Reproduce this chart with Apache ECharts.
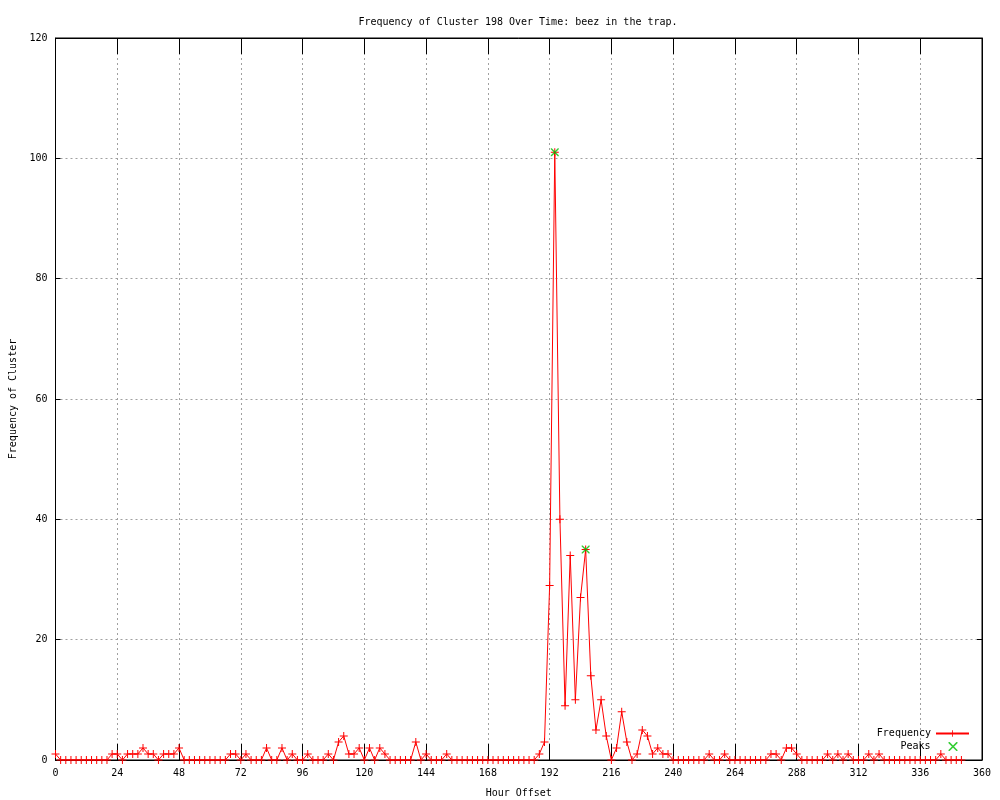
<!DOCTYPE html>
<html>
<head>
<meta charset="utf-8">
<script src="https://cdn.jsdelivr.net/npm/echarts@6/dist/echarts.min.js"></script>
<style>
html,body{margin:0;padding:0;background:#fff;}
#chart{width:1000px;height:800px;}
</style>
</head>
<body>
<div id="chart"></div>
<script>
// Hour offsets of the samples
var hours = [0,2,4,6,8,10,12,14,16,18,20,22,24,26,28,30,32,34,36,38,40,42,44,46,48,
50,52,54,56,58,60,62,64,66,68,70,72,74,76,78,80,82,84,86,88,90,92,94,96,98,
100,102,104,106,108,110,112,114,116,118,120,122,124,126,128,130,132,134,136,138,
140,142,144,146,148,150,152,154,156,158,160,162,164,166,168,170,172,174,176,178,
180,182,184,186,188,190,192,194,196,198,200,202,204,206,208,210,212,214,216,218,
220,222,224,226,228,230,232,234,236,238,240,242,244,246,248,250,252,254,256,258,
260,262,264,266,268,270,272,274,276,278,280,282,284,286,288,290,292,294,296,298,
300,302,304,306,308,310,312,314,316,318,320,322,324,326,328,330,332,334,336,338,
340,342,344,346,348,350,352];
// Frequency of cluster at each hour offset
var frequency = [1,0,0,0,0,0,0,0,0,0,0,
1,1,0,1,1,1,2,1,1,0,1,1,1,2,
0,0,0,0,0,0,0,0,0,
1,1,0,1,0,0,0,2,0,0,2,0,1,0,0,1,0,0,0,1,0,3,4,1,1,2,0,2,0,2,1,
0,0,0,0,0,
3,0,1,0,0,0,1,
0,0,0,0,0,0,0,0,0,0,0,0,0,0,0,0,0,
1,3,29,101,40,9,34,10,27,35,14,5,10,4,0,2,8,3,0,1,5,4,1,2,1,1,
0,0,0,0,0,0,0,
1,0,0,1,
0,0,0,0,0,0,0,0,
1,1,0,2,2,1,
0,0,0,0,0,
1,0,1,0,1,
0,0,0,
1,0,1,
0,0,0,0,0,0,0,0,0,0,0,
1,
0,0,0,0];
var peakHours = [194, 206];
var peakValues = [101, 35];
var xTicks = [0,24,48,72,96,120,144,168,192,216,240,264,288,312,336,360];
var yTicks = [0,20,40,60,80,100,120];

var freqData = hours.map(function(h,i){return [h, frequency[i]];});
var peakData = peakHours.map(function(h,i){return [h, peakValues[i]];});

var FONT = 'DejaVu Sans Mono';
var crossPath = 'path://M0,3.5H8V4.5H0Z M3.5,0H4.5V8H3.5Z';
var xPath = 'path://M0,0L1,0L8,7L8,8L7,8L0,1Z M7,0L8,0L8,1L1,8L0,8L0,7Z';
var gridLine = {show:true, lineStyle:{color:'#a0a0a0', width:1, type:[2,3]}};

var chart = echarts.init(document.getElementById('chart'), null, {renderer:'canvas'});
chart.setOption({
  animation:false,
  backgroundColor:'#ffffff',
  title:{
    text:'Frequency of Cluster 198 Over Time: beez in the trap.',
    left:513, top:12, textAlign:'center',
    textStyle:{fontFamily:FONT, fontSize:10, fontWeight:'normal', color:'#000'}
  },
  grid:{left:55.5, right:18, top:38, bottom:40, show:true, borderColor:'#000', borderWidth:1,
        backgroundColor:'transparent', containLabel:false, outerBoundsMode:'none'},
  legend:[
    {data:['Frequency'], orient:'vertical', align:'right', right:30, top:728.5, padding:0,
     itemWidth:33, itemHeight:8, textStyle:{fontFamily:FONT, fontSize:10, color:'#000'}},
    {data:['Peaks'], orient:'vertical', align:'right', right:42.5, top:741.5, padding:0,
     itemWidth:9, itemHeight:9, textStyle:{fontFamily:FONT, fontSize:10, color:'#000', padding:[0,13,0,0]}}
  ],
  xAxis:[
    {type:'value', min:0, max:360, interval:24, position:'bottom',
     name:'Hour Offset', nameLocation:'middle', nameGap:28,
     nameTextStyle:{fontFamily:FONT, fontSize:10, color:'#000'},
     axisLine:{show:true, onZero:false, lineStyle:{color:'#000', width:1}},
     axisTick:{show:true, inside:true, length:16, lineStyle:{color:'#000'}},
     axisLabel:{show:true, margin:8, fontFamily:FONT, fontSize:10, color:'#000',
       formatter:function(v){return xTicks.indexOf(v)>=0 ? String(v) : '';}},
     splitLine:gridLine},
    {type:'value', min:0, max:360, interval:24, position:'top',
     axisLine:{show:true, onZero:false, lineStyle:{color:'#000', width:1}},
     axisTick:{show:true, inside:true, length:16, lineStyle:{color:'#000'}},
     axisLabel:{show:false}, splitLine:{show:false}}
  ],
  yAxis:[
    {type:'value', min:0, max:120, interval:20, position:'left',
     name:'Frequency of Cluster', nameLocation:'middle', nameGap:37, nameRotate:90,
     nameTextStyle:{fontFamily:FONT, fontSize:10, color:'#000'},
     axisLine:{show:true, onZero:false, lineStyle:{color:'#000', width:1}},
     axisTick:{show:true, inside:true, length:5, lineStyle:{color:'#000'}},
     axisLabel:{show:true, margin:8, fontFamily:FONT, fontSize:10, color:'#000',
       formatter:function(v){return yTicks.indexOf(v)>=0 ? String(v) : '';}},
     splitLine:gridLine},
    {type:'value', min:0, max:120, interval:20, position:'right',
     axisLine:{show:true, onZero:false, lineStyle:{color:'#000', width:1}},
     axisTick:{show:true, inside:true, length:5, lineStyle:{color:'#000'}},
     axisLabel:{show:false}, splitLine:{show:false}}
  ],
  series:[
    {name:'Frequency', type:'line', xAxisIndex:0, yAxisIndex:0, data:freqData,
     symbol:crossPath, symbolSize:8, showSymbol:true, showAllSymbol:true,
     lineStyle:{color:'#ff0000', width:1}, itemStyle:{color:'#ff0000'},
     emphasis:{disabled:true}, z:3},
    {name:'Peaks', type:'scatter', xAxisIndex:0, yAxisIndex:0, data:peakData,
     symbol:xPath, symbolSize:8, itemStyle:{color:'#00c000'}, z:4}
  ]
});
</script>
</body>
</html>
